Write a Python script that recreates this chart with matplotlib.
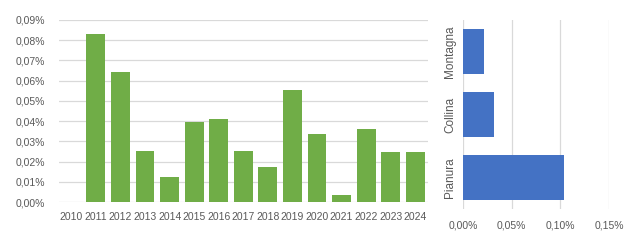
import matplotlib.pyplot as plt
import numpy as np

# Data (values in percent)
years = ['2010', '2011', '2012', '2013', '2014', '2015', '2016', '2017',
         '2018', '2019', '2020', '2021', '2022', '2023', '2024']
year_values = [0, 0.083, 0.0645, 0.0252, 0.0125, 0.0395, 0.041, 0.0252,
               0.0175, 0.0552, 0.0335, 0.0035, 0.036, 0.0247, 0.0247]

zones = ['Pianura', 'Collina', 'Montagna']
zone_values = [0.104, 0.0313, 0.021]

green = '#70AD47'
blue = '#4472C4'
grid = '#D9D9D9'
text = '#595959'

plt.rcParams['font.family'] = ['Liberation Sans', 'DejaVu Sans']

fig = plt.figure(figsize=(6.3, 2.4), dpi=100)

def pct(v):
    return f'{v:.2f}%'.replace('.', ',')

# Left chart: by year
ax1 = fig.add_axes([0.0937, 0.158, 0.585, 0.759])
x = np.arange(len(years))
ax1.bar(x, year_values, width=0.77, color=green, zorder=2)
ax1.set_xlim(-0.5, len(years) - 0.5)
ax1.set_ylim(0, 0.09)
yt = np.arange(0, 0.0901, 0.01)
ax1.set_yticks(yt)
ax1.set_yticklabels([pct(v) for v in yt])
ax1.set_xticks(x)
ax1.set_xticklabels(years)
ax1.grid(axis='y', color=grid, linewidth=0.9, zorder=0)
for s in ax1.spines.values():
    s.set_visible(False)
ax1.tick_params(axis='both', length=0, labelsize=7.5, labelcolor=text)
ax1.tick_params(axis='x', pad=7)
ax1.tick_params(axis='y', pad=10)

# Right chart: by zone
ax2 = fig.add_axes([0.735, 0.129, 0.232, 0.788])
yz = np.arange(len(zones))
ax2.barh(yz, zone_values, height=0.7, color=blue, zorder=2)
ax2.set_ylim(-0.5, len(zones) - 0.5)
ax2.set_xlim(0, 0.15)
xt = [0, 0.05, 0.10, 0.15]
ax2.set_xticks(xt)
ax2.set_xticklabels([pct(v) for v in xt])
ax2.set_yticks(yz)
ax2.set_yticklabels(zones, rotation=90, va='center', fontsize=8.5)
ax2.grid(axis='x', color=grid, linewidth=0.9, zorder=0)
for s in ax2.spines.values():
    s.set_visible(False)
ax2.tick_params(axis='both', length=0, labelsize=7.5, labelcolor=text)
ax2.tick_params(axis='y', labelsize=8.5, pad=5)
ax2.tick_params(axis='x', pad=8)

fig.savefig('out.png', dpi=100)
